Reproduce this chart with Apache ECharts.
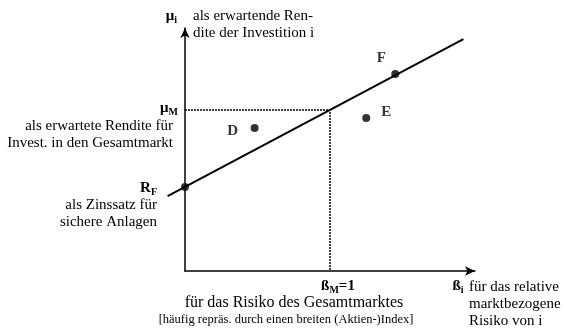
<!DOCTYPE html>
<html>
<head>
<meta charset="utf-8">
<script src="https://cdn.jsdelivr.net/npm/echarts@6/dist/echarts.min.js"></script>
<style>
  html, body { margin: 0; padding: 0; background: #fff; }
  #chart { width: 564px; height: 333px; }
</style>
</head>
<body>
<div id="chart"></div>
<script>
// Werte (β, μ)
var smlLine = [[-0.12, 3.08], [1.92, 9.54]];   // Wertpapiermarktlinie
var marketGuide = [[0, 6.63], [1, 6.63], [1, 0]]; // gepunktete Hilfslinien zu μM / ßM=1
var points = [
  { name: 'R', value: [0, 3.46] },
  { name: 'D', value: [0.48, 5.88] },
  { name: 'E', value: [1.25, 6.30] },
  { name: 'F', value: [1.45, 8.11] }
];

var FONT = 'Liberation Serif';
var rich = {
  b: { fontFamily: FONT, fontSize: 15, fontWeight: 'bold', color: '#000' },
  s: { fontFamily: FONT, fontSize: 10, fontWeight: 'bold', color: '#000', padding: [8, 0, 0, 0] }
};

function txt(text, x, y, align, size, bold) {
  return {
    type: 'text',
    x: x,
    y: y,
    style: {
      text: text,
      fill: '#000',
      font: (bold ? 'bold ' : '') + (size || 15) + 'px "' + FONT + '"',
      textAlign: align || 'left',
      textVerticalAlign: 'middle',
      rich: rich
    }
  };
}

var hidden = {
  axisLine: { show: false },
  axisTick: { show: false },
  axisLabel: { show: false },
  splitLine: { show: false }
};

var chart = echarts.init(document.getElementById('chart'));

var option = {
  backgroundColor: '#fff',
  animation: false,
  grid: [
    { left: 185, right: 89, top: 28, bottom: 62 },
    // etwas breiter, damit die Linie links über die μ-Achse hinausragt
    { left: 167.6, right: 89, top: 28, bottom: 62 }
  ],
  xAxis: [
    {
      type: 'value',
      gridIndex: 0,
      min: 0,
      max: 2,
      axisLine: {
        onZero: false,
        symbol: ['none', 'arrow'],
        symbolSize: [7, 10],
        lineStyle: { color: '#000', width: 1.5 }
      },
      axisTick: { show: false },
      axisLabel: { show: false },
      splitLine: { show: false }
    },
    Object.assign({ type: 'value', gridIndex: 1, min: -0.12, max: 2 }, hidden)
  ],
  yAxis: [
    {
      type: 'value',
      gridIndex: 0,
      min: 0,
      max: 10,
      axisLine: {
        show: true,
        onZero: false,
        symbol: ['none', 'arrow'],
        symbolSize: [7, 10],
        lineStyle: { color: '#000', width: 1.5 }
      },
      axisTick: { show: false },
      axisLabel: { show: false },
      splitLine: { show: false }
    },
    Object.assign({ type: 'value', gridIndex: 1, min: 0, max: 10 }, hidden)
  ],
  series: [
    {
      type: 'line',
      data: marketGuide,
      symbol: 'none',
      lineStyle: { color: '#000', width: 1.5, type: [2, 1] },
      z: 1
    },
    {
      type: 'line',
      xAxisIndex: 1,
      yAxisIndex: 1,
      data: smlLine,
      symbol: 'none',
      lineStyle: { color: '#000', width: 2 },
      z: 2
    },
    {
      type: 'scatter',
      data: points,
      symbolSize: 8,
      itemStyle: { color: '#000' },
      z: 3,
      label: {
        show: true,
        fontFamily: FONT,
        fontSize: 15,
        fontWeight: 'bold',
        color: '#000',
        formatter: function (p) { return p.name === 'R' ? '' : p.name; }
      },
      labelLayout: function (p) {
        var off = { D: [-22, 3], E: [20, -6], F: [-14, -16] }[p.text] || [0, 0];
        return { x: p.rect.x + p.rect.width / 2 + off[0], y: p.rect.y + p.rect.height / 2 + off[1], align: 'center', verticalAlign: 'middle' };
      }
    }
  ],
  graphic: [
    txt('{b|μ}{s|i}', 177, 16, 'right'),
    txt('als erwartende Ren-', 193, 16),
    txt('dite der Investition i', 193, 33),
    txt('{b|μ}{s|M}', 178, 108, 'right'),
    txt('als erwartete Rendite für', 173, 126, 'right'),
    txt('Invest. in den Gesamtmarkt', 173, 143, 'right'),
    txt('{b|R}{s|F}', 157, 188, 'right'),
    txt('als Zinssatz für', 157, 205, 'right'),
    txt('sichere Anlagen', 157, 222, 'right'),
    txt('{b|ß}{s|M}{b|=1}', 338, 286, 'center'),
    txt('für das Risiko des Gesamtmarktes', 294, 303, 'center', 16),
    txt('[häufig repräs. durch einen breiten (Aktien-)Index]', 286, 320, 'center', 12.5),
    txt('{b|ß}{s|i}', 458, 286, 'center'),
    txt('für das relative', 469, 287),
    txt('marktbezogene', 469, 304),
    txt('Risiko von i', 469, 321)
  ]
};

chart.setOption(option);
</script>
</body>
</html>
